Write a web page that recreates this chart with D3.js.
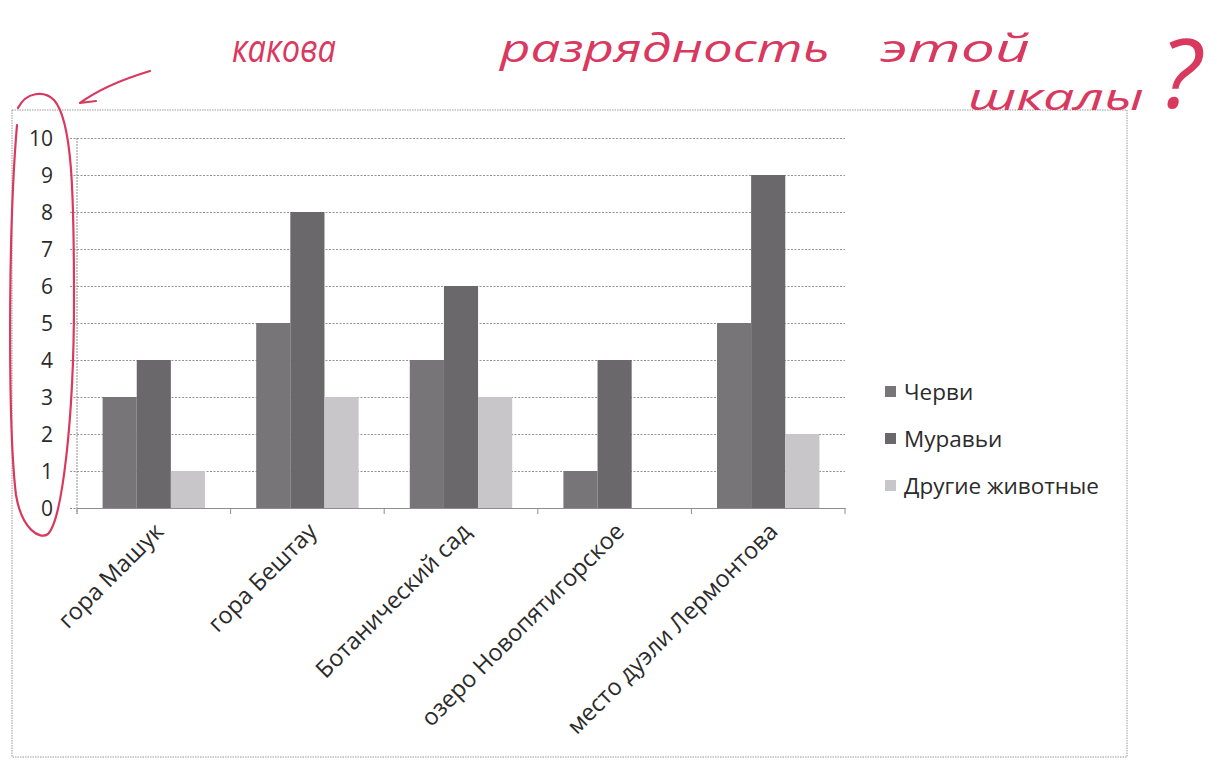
<!DOCTYPE html>
<html>
<head>
<meta charset="utf-8">
<script src="https://cdn.jsdelivr.net/npm/d3@7"></script>
<style>
  body { margin: 0; background: #ffffff; }
  svg text { font-family: "Open Sans", "Noto Sans", sans-serif; fill: #2b2b2b; }
</style>
</head>
<body>
<svg id="chart" width="1217" height="765"></svg>
<script>
// Survey sites and counts of animals found at each
const categories = ["гора Машук", "гора Бештау", "Ботанический сад", "озеро Новопятигорское", "место дуэли Лермонтова"];
const seriesNames = ["Черви", "Муравьи", "Другие животные"];
const worms  = [3, 5, 4, 1, 5];
const ants   = [4, 8, 6, 4, 9];
const others = [1, 3, 3, 0, 2];
const yTicks = [0, 1, 2, 3, 4, 5, 6, 7, 8, 9, 10];
const seriesColors = ["#787579", "#6b686c", "#c8c6c8"];

// Teacher's red-pen notes
const noteWords = ["какова", "разрядность", "этой"];
const noteLine2 = "шкалы";
const noteMark = "?";

const seriesValues = [worms, ants, others];
const rows = categories.map((c, i) => ({ cat: c, vals: seriesNames.map((s, j) => ({ s, v: seriesValues[j][i] })) }));

const svg = d3.select("#chart");

// Outer chart frame
svg.append("rect")
  .attr("x", 12).attr("y", 110).attr("width", 1115).attr("height", 647)
  .attr("fill", "none").attr("stroke", "#9a9a9a").attr("stroke-width", 1)
  .attr("stroke-dasharray", "1.5,1");

const plot = { left: 77, right: 845, top: 138, bottom: 508 };

const y = d3.scaleLinear().domain([0, 10]).range([plot.bottom, plot.top]);
const x0 = d3.scaleBand().domain(categories).range([plot.left, plot.right]);
const x1 = d3.scaleBand().domain(seriesNames).range([0, x0.bandwidth()]).paddingOuter(0.75);
const color = d3.scaleOrdinal().domain(seriesNames).range(seriesColors);

// Horizontal gridlines and value axis
const yAxis = d3.axisLeft(y).tickValues(yTicks).tickSize(-(plot.right - plot.left + 7)).tickPadding(17).tickFormat(d3.format("d"));
const gy = svg.append("g").attr("transform", `translate(${plot.left - 7},0)`).call(yAxis);
gy.select(".domain").remove();
gy.selectAll(".tick line")
  .attr("stroke", "#949494").attr("stroke-width", 1).attr("stroke-dasharray", "2,1.5");
gy.selectAll(".tick text")
  .attr("font-size", 21).attr("fill", "#2b2b2b").attr("dy", "0.36em");

// Vertical axis line
svg.append("line")
  .attr("x1", plot.left).attr("x2", plot.left)
  .attr("y1", plot.top).attr("y2", plot.bottom + 6)
  .attr("stroke", "#8e8e8e").attr("stroke-dasharray", "2,1");

// Bars
const groups = svg.append("g").selectAll("g").data(rows).join("g")
  .attr("transform", d => `translate(${x0(d.cat)},0)`);
groups.selectAll("rect").data(d => d.vals).join("rect")
  .attr("x", d => x1(d.s))
  .attr("width", x1.bandwidth())
  .attr("y", d => y(d.v))
  .attr("height", d => y(0) - y(d.v))
  .attr("fill", d => color(d.s));

// Category axis
const xAxis = d3.axisBottom(x0).tickSize(0).tickFormat("");
const gx = svg.append("g").attr("transform", `translate(0,${plot.bottom})`).call(xAxis);
gx.select(".domain").attr("stroke", "#8e8e8e");
const boundaries = categories.map(c => x0(c)).concat([plot.right]);
gx.selectAll(".sep").data(boundaries).join("line").attr("class", "sep")
  .attr("x1", d => d).attr("x2", d => d).attr("y1", 0).attr("y2", 6)
  .attr("stroke", "#8e8e8e");

// Rotated category labels
svg.append("g").selectAll("text").data(categories).join("text")
  .attr("transform", d => `translate(${x0(d) + x0.bandwidth() / 2 + 11},${plot.bottom + 25}) rotate(-45)`)
  .attr("text-anchor", "end")
  .attr("font-size", 23.5)
  .text(d => d);

// Legend
const legend = svg.append("g").attr("transform", "translate(885,392)");
const li = legend.selectAll("g").data(seriesNames).join("g")
  .attr("transform", (d, i) => `translate(0,${i * 47})`);
li.append("rect").attr("x", 0).attr("y", -6).attr("width", 11).attr("height", 11).attr("fill", d => color(d));
li.append("text").attr("x", 19).attr("dy", "0.36em").attr("font-size", 22.5).text(d => d);

// Red-pen annotations
const ink = "#d9385f";
const pen = svg.append("g").attr("fill", "none").attr("stroke", ink)
  .attr("stroke-width", 2.2).attr("stroke-linecap", "round").attr("stroke-linejoin", "round");

// Loop drawn around the value axis labels
const loop = d3.path();
loop.moveTo(17, 125);
loop.bezierCurveTo(8, 230, 8, 430, 16, 495);
loop.bezierCurveTo(22, 530, 40, 540, 48, 534);
loop.bezierCurveTo(62, 520, 74, 420, 74, 300);
loop.bezierCurveTo(74, 190, 72, 120, 54, 100);
loop.bezierCurveTo(44, 90, 26, 92, 18, 108);
pen.append("path").attr("d", loop.toString());

// Arrow pointing at the axis
const arrow = d3.path();
arrow.moveTo(150, 71);
arrow.bezierCurveTo(120, 80, 95, 92, 80, 103);
arrow.lineTo(96, 101);
pen.append("path").attr("d", arrow.toString());

const note = svg.append("g");
const wordSpans = [[232, 104], [500, 330], [880, 150]];
note.selectAll("text.w").data(noteWords).join("text").attr("class", "w")
  .attr("x", (d, i) => wordSpans[i][0]).attr("y", 62)
  .attr("font-family", "DejaVu Serif").attr("font-style", "italic").attr("font-size", 38)
  .attr("textLength", (d, i) => wordSpans[i][1]).attr("lengthAdjust", "spacingAndGlyphs")
  .style("fill", ink).text(d => d);
note.append("text").attr("x", 968).attr("y", 110)
  .attr("font-family", "DejaVu Serif").attr("font-style", "italic").attr("font-size", 36)
  .attr("textLength", 176).attr("lengthAdjust", "spacingAndGlyphs")
  .style("fill", ink).text(noteLine2);
note.append("text").attr("x", 1160).attr("y", 108)
  .attr("font-family", "DejaVu Serif").attr("font-style", "italic").attr("font-size", 96)
  .style("fill", ink).text(noteMark);
</script>
</body>
</html>
